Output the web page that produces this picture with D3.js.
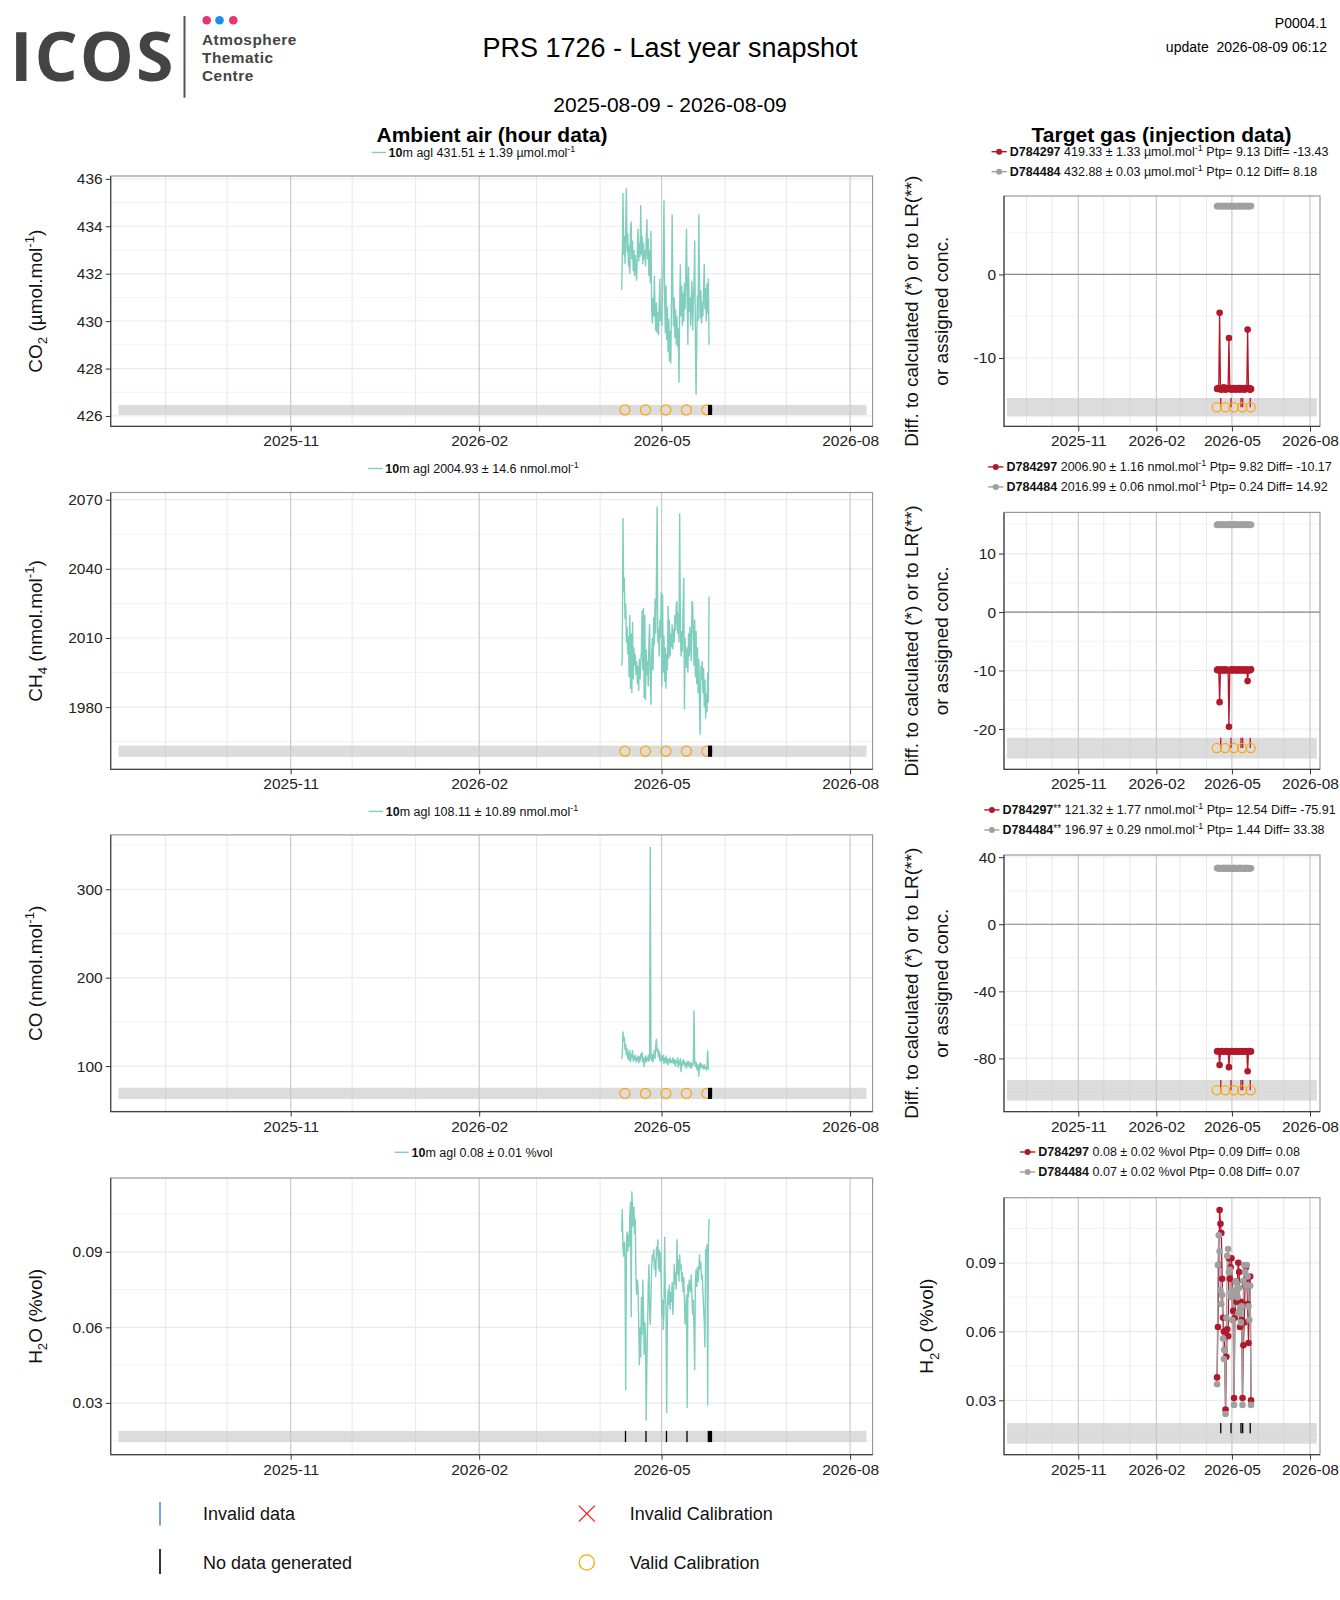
<!DOCTYPE html>
<html>
<head>
<meta charset="utf-8">
<title>PRS 1726 - Last year snapshot</title>
<script src="https://cdn.jsdelivr.net/npm/d3@7"></script>
<style>
  body { margin: 0; background: #fff; }
  svg { font-family: "Liberation Sans", Arial, Helvetica, sans-serif; }
</style>
</head>
<body>
<svg id="chart" width="1340" height="1600"></svg>
<script>
// ---------------- data ----------------
const stationTitle = "PRS 1726 - Last year snapshot";
const periodLabel = "2025-08-09 - 2026-08-09";
const versionLabel = "P0004.1";
const updateLabel = "update\u00a0\u00a02026-08-09 06:12";
const periodStart = "2025-08-09T00:00";
const periodEnd = "2026-08-09T00:00";

// ambient air, one value every 8 hours
const ambientStart = "2026-04-11T12:00";
const ambientStepHours = 8;
const co2Ambient = [431.3, 432.5, 435.4, 432.8, 433.6, 432.4, 434.0, 435.6, 432.9, 433.7,
  432.3, 433.2, 432.0, 433.8, 434.2, 432.6, 433.4, 432.1, 433.0, 431.9,
  432.8, 432.2, 431.7, 432.9, 433.9, 432.5, 433.3, 432.7, 434.9, 432.8,
  433.6, 432.4, 433.3, 432.6, 433.0, 432.3, 433.4, 434.3, 432.6, 433.5,
  431.9, 433.0, 431.6, 433.8, 430.5, 429.9, 431.0, 430.2, 431.9, 430.3,
  429.6, 430.8, 429.5, 430.4, 429.4, 430.6, 431.8, 430.0, 430.4, 429.8,
  431.3, 432.5, 435.1, 431.0, 429.5, 431.5, 429.2, 430.6, 428.7, 430.1,
  428.3, 429.6, 428.2, 430.9, 434.5, 431.2, 429.8, 431.0, 429.3, 430.5,
  429.0, 430.2, 428.9, 429.7, 427.4, 430.6, 432.4, 430.2, 431.5, 429.8,
  431.2, 430.0, 431.6, 430.5, 432.0, 433.9, 431.0, 429.0, 432.3, 430.4,
  431.0, 429.8, 430.9, 431.7, 429.6, 430.8, 431.5, 433.4, 429.4, 426.9,
  429.2, 431.1, 430.0, 434.5, 431.6, 430.1, 431.3, 429.9, 430.8, 430.2,
  431.4, 432.4, 430.5, 431.4, 430.0, 431.6, 430.3, 431.8, 429.0];
const ch4Ambient = [1998, 2001, 2062, 2030, 2036, 2018, 2025, 2008, 2015, 2003,
  2011, 1993, 2020, 1988, 2012, 1986, 2017, 1992, 2006, 1998,
  2003, 1994, 2000, 1990, 1998, 1987, 2001, 1992, 1999, 2004,
  2022, 1996, 2023, 1984, 2020, 1983, 2005, 1994, 2000, 1989,
  2008, 2016, 1993, 1981, 2002, 2010, 1996, 2019, 2007, 2027,
  2012, 2035, 2067, 2008, 2014, 2002, 2018, 2010, 2030, 1989,
  2029, 1995, 2011, 1991, 2006, 1988, 2003, 1996, 2024, 2001,
  2018, 2002, 2012, 2006, 2016, 2005, 2014, 2008, 2020, 2013,
  2024, 2026, 2012, 2021, 2008, 2064, 2017, 2002, 2013, 2004,
  2023, 2036, 1979, 2010, 2002, 1997, 2006, 1995, 2012, 2002,
  2015, 2006, 2000, 2026, 2025, 2011, 1998, 2018, 1993, 2013,
  1990, 2006, 1986, 2001, 1982, 1968, 1998, 1992, 2000, 1986,
  1997, 1980, 1992, 1975, 1986, 1978, 1995, 1982, 2028];
const coAmbient = [108, 112, 139, 128, 133, 118, 125, 112, 120, 108,
  116, 106, 118, 104, 114, 109, 118, 105, 112, 107,
  113, 104, 110, 106, 112, 103, 111, 105, 114, 108,
  116, 104, 110, 99, 107, 112, 104, 110, 106, 113,
  105, 109, 348, 110, 106, 114, 104, 112, 118, 108,
  124, 131, 116, 120, 110, 117, 106, 113, 104, 111,
  106, 113, 102, 110, 104, 112, 103, 109, 101, 108,
  104, 110, 103, 107, 104, 110, 102, 108, 105, 99,
  107, 103, 110, 98, 106, 101, 109, 93, 105, 100,
  108, 102, 106, 99, 104, 97, 103, 106, 100, 105,
  98, 104, 97, 102, 100, 106, 163, 104, 99, 105,
  98, 95, 102, 88, 100, 104, 97, 103, 98, 101,
  96, 102, 97, 100, 95, 99, 118, 97, 96];
const h2oAmbient = [0.098, 0.107, 0.092, 0.088, 0.094, 0.087, 0.035, 0.093, 0.098, 0.090,
  0.097, 0.092, 0.104, 0.110, 0.064, 0.114, 0.107, 0.100, 0.108, 0.097,
  0.103, 0.080, 0.073, 0.079, 0.076, 0.062, 0.045, 0.060, 0.048, 0.072,
  0.057, 0.079, 0.068, 0.049, 0.062, 0.058, 0.023, 0.045, 0.060, 0.076,
  0.085, 0.066, 0.061, 0.072, 0.084, 0.089, 0.087, 0.091, 0.083, 0.087,
  0.080, 0.092, 0.088, 0.095, 0.083, 0.091, 0.082, 0.090, 0.078, 0.064,
  0.071, 0.059, 0.066, 0.096, 0.074, 0.068, 0.026, 0.064, 0.075, 0.069,
  0.077, 0.067, 0.074, 0.070, 0.078, 0.065, 0.072, 0.085, 0.077, 0.082,
  0.075, 0.095, 0.081, 0.087, 0.078, 0.089, 0.083, 0.085, 0.078, 0.082,
  0.074, 0.080, 0.070, 0.061, 0.068, 0.073, 0.028, 0.077, 0.072, 0.079,
  0.076, 0.074, 0.081, 0.072, 0.065, 0.071, 0.058, 0.043, 0.078, 0.083,
  0.076, 0.084, 0.078, 0.082, 0.089, 0.083, 0.086, 0.079, 0.081, 0.074,
  0.068, 0.062, 0.052, 0.091, 0.089, 0.093, 0.029, 0.092, 0.103];

const calibrationTimes = ["2026-04-13T03:00", "2026-04-23T03:00", "2026-05-03T03:00", "2026-05-13T03:00", "2026-05-23T03:00"];
const noDataGas = [["2026-05-23T16:00", "2026-05-25T16:00"]];
const noDataH2O = [["2026-04-13T02:00", "2026-04-13T17:00"], ["2026-04-23T02:00", "2026-04-23T17:00"],
  ["2026-05-03T02:00", "2026-05-03T17:00"], ["2026-05-13T02:00", "2026-05-13T17:00"],
  ["2026-05-23T12:00", "2026-05-25T16:00"]];

// target gas injections, one per day
const injectionStart = "2026-04-13T12:00";
const injectionStepHours = 24;
const co2TargetA = [-13.7, -13.6, -13.7, -4.6, -13.7, -13.8, -13.6, -13.7, -13.5, -13.7,
  -13.8, -13.7, -13.6, -13.7, -7.6, -13.7, -13.6, -13.8, -13.7, -13.6,
  -13.7, -13.7, -13.8, -13.6, -13.7, -13.7, -13.6, -13.8, -13.7, -13.6,
  -13.7, -13.7, -13.8, -13.6, -13.7, -13.7, -6.6, -13.7, -13.6, -13.8, -13.7];
const co2TargetB = [8.17, 8.19, 8.18, 8.20, 8.16, 8.18, 8.19, 8.17, 8.18, 8.20,
  8.18, 8.16, 8.19, 8.18, 8.17, 8.18, 8.20, 8.18, 8.17, 8.19,
  8.18, 8.16, 8.18, 8.19, 8.17, 8.18, 8.20, 8.18, 8.17, 8.19,
  8.18, 8.17, 8.18, 8.19, 8.16, 8.18, 8.20, 8.18, 8.17, 8.19, 8.18];
const ch4TargetA = [-9.9, -9.8, -10.0, -15.4, -9.9, -10.0, -9.8, -9.9, -10.0, -9.9,
  -9.8, -10.0, -9.9, -9.9, -19.6, -9.9, -10.0, -9.8, -9.9, -10.0,
  -9.9, -9.8, -10.0, -9.9, -9.9, -10.0, -9.8, -9.9, -10.0, -9.9,
  -9.8, -10.0, -9.9, -9.9, -10.0, -9.8, -11.8, -9.9, -10.0, -9.9, -9.8];
const ch4TargetB = [14.90, 14.95, 14.91, 14.93, 14.88, 14.92, 14.96, 14.90, 14.93, 14.91,
  14.94, 14.89, 14.92, 14.95, 14.90, 14.93, 14.91, 14.94, 14.92, 14.89,
  14.93, 14.95, 14.91, 14.92, 14.90, 14.94, 14.92, 14.89, 14.93, 14.91,
  14.95, 14.92, 14.90, 14.93, 14.91, 14.94, 14.92, 14.90, 14.93, 14.91, 14.92];
const coTargetA = [-75.8, -75.6, -75.9, -83.9, -75.7, -75.9, -75.6, -75.8, -75.9, -75.7,
  -75.8, -75.6, -75.9, -75.8, -85.2, -75.7, -75.9, -75.6, -75.8, -75.9,
  -75.7, -75.8, -75.6, -75.9, -75.8, -75.7, -75.9, -75.6, -75.8, -75.9,
  -75.7, -75.8, -75.6, -75.9, -75.8, -75.7, -87.6, -75.8, -75.6, -75.9, -75.8];
const coTargetB = [33.4, 33.6, 33.2, 33.5, 33.3, 33.4, 33.1, 33.6, 33.4, 33.2,
  33.5, 33.3, 33.4, 33.6, 33.2, 33.4, 33.5, 33.3, 33.1, 33.4,
  33.6, 33.3, 33.4, 33.2, 33.5, 33.4, 33.3, 33.6, 33.2, 33.4,
  33.5, 33.3, 33.4, 33.2, 33.6, 33.4, 33.3, 33.5, 33.2, 33.4, 33.4];
const h2oTargetA = [0.040, 0.062, 0.089, 0.113, 0.107, 0.103, 0.083, 0.066, 0.060, 0.052,
  0.026, 0.049, 0.061, 0.058, 0.092, 0.083, 0.088, 0.092, 0.077, 0.069,
  0.031, 0.066, 0.075, 0.073, 0.082, 0.090, 0.086, 0.062, 0.073, 0.065,
  0.031, 0.054, 0.064, 0.080, 0.088, 0.083, 0.072, 0.055, 0.080, 0.084, 0.030];
const h2oTargetB = [0.037, 0.089, 0.102, 0.095, 0.078, 0.072, 0.076, 0.057, 0.048, 0.052,
  0.024, 0.066, 0.093, 0.096, 0.086, 0.087, 0.077, 0.075, 0.065, 0.078,
  0.028, 0.076, 0.082, 0.081, 0.075, 0.068, 0.079, 0.070, 0.064, 0.071,
  0.028, 0.082, 0.089, 0.086, 0.080, 0.089, 0.084, 0.071, 0.065, 0.080, 0.028];
const targetMissingTimes = ["2026-04-17T20:00", "2026-04-29T22:00", "2026-05-11T16:00", "2026-05-13T16:00", "2026-05-22T14:00"];

// tick values
const co2Ticks = [426, 428, 430, 432, 434, 436];
const ch4Ticks = [1980, 2010, 2040, 2070];
const coTicks = [100, 200, 300];
const h2oTicks = [0.03, 0.06, 0.09];
const co2DiffTicks = [-10, 0];
const ch4DiffTicks = [-20, -10, 0, 10];
const coDiffTicks = [-80, -40, 0, 40];
const h2oTargetTicks = [0.03, 0.06, 0.09];

// legend texts
const ambientLegends = [
  ["10m agl 431.51 ± 1.39 µmol.mol", "-1"],
  ["10m agl 2004.93 ± 14.6 nmol.mol", "-1"],
  ["10m agl 108.11 ± 10.89 nmol.mol", "-1"],
  ["10m agl 0.08 ± 0.01 %vol", ""]
];
const targetLegends = [
  [["D784297", "", " 419.33 ± 1.33 µmol.mol", "-1", " Ptp= 9.13 Diff= -13.43"],
   ["D784484", "", " 432.88 ± 0.03 µmol.mol", "-1", " Ptp= 0.12 Diff= 8.18"]],
  [["D784297", "", " 2006.90 ± 1.16 nmol.mol", "-1", " Ptp= 9.82 Diff= -10.17"],
   ["D784484", "", " 2016.99 ± 0.06 nmol.mol", "-1", " Ptp= 0.24 Diff= 14.92"]],
  [["D784297", "**", " 121.32 ± 1.77 nmol.mol", "-1", " Ptp= 12.54 Diff= -75.91"],
   ["D784484", "**", " 196.97 ± 0.29 nmol.mol", "-1", " Ptp= 1.44 Diff= 33.38"]],
  [["D784297", "", " 0.08 ± 0.02 %vol Ptp= 0.09 Diff= 0.08", "", ""],
   ["D784484", "", " 0.07 ± 0.02 %vol Ptp= 0.08 Diff= 0.07", "", ""]]
];
const axisTitles = [
  [["CO"], ["2", "sub"], [" (µmol.mol"], ["-1", "sup"], [")"]],
  [["CH"], ["4", "sub"], [" (nmol.mol"], ["-1", "sup"], [")"]],
  [["CO (nmol.mol"], ["-1", "sup"], [")"]],
  [["H"], ["2", "sub"], ["O (%vol)"]]
];
const diffTitle = ["Diff. to calculated (*) or to LR(**)", "or assigned conc."];
const legendLabels = ["Invalid data", "No data generated", "Invalid Calibration", "Valid Calibration"];
const logoLines = ["Atmosphere", "Thematic", "Centre"];

// ---------------- drawing ----------------
const svg = d3.select("#chart");
const FONT = "'Liberation Sans', Arial, Helvetica, sans-serif";
const TEAL = "#80cebe", RED = "#b2182b", GREY = "#a0a0a0", ORANGE = "#ffa500";
const parseTime = d3.timeParse("%Y-%m-%dT%H:%M");
const t0 = parseTime(periodStart), t1 = parseTime(periodEnd);
const monthFmt = d3.timeFormat("%Y-%m");
const months = d3.timeMonth.range(d3.timeMonth.offset(t0, -1), d3.timeMonth.offset(t1, 1));

const xLeft = d3.scaleTime().domain([t0, t1]).range([118.5, 866.5]);
const xRight = d3.scaleTime().domain([t0, t1]).range([1007, 1316.8]);
const LEFT = [110.7, 872.6], RIGHT = [1004, 1320];

const rows = [
  { top: 176, rTop: 196, bottom: 426.4, dom: [425.56, 436.12], rDom: [-18.19, 9.39],
    ticks: co2Ticks, rTicks: co2DiffTicks, amb: co2Ambient, tA: co2TargetA, tB: co2TargetB,
    legY: 152.5, rLegY: 151.7, gas: true },
  { top: 492.5, rTop: 512.4, bottom: 769.4, dom: [1953.0, 2073.1], rDom: [-26.9, 17.04],
    ticks: ch4Ticks, rTicks: ch4DiffTicks, amb: ch4Ambient, tA: ch4TargetA, tB: ch4TargetB,
    legY: 468.5, rLegY: 466.9, gas: true },
  { top: 834.9, rTop: 855, bottom: 1111.6, dom: [48.5, 361.5], rDom: [-111.7, 41.3],
    ticks: coTicks, rTicks: coDiffTicks, amb: coAmbient, tA: coTargetA, tB: coTargetB,
    legY: 811.4, rLegY: 809.9, gas: true },
  { top: 1178, rTop: 1197.7, bottom: 1454.7, dom: [0.00943, 0.1193], rDom: [0.00627, 0.1184],
    ticks: h2oTicks, rTicks: h2oTargetTicks, amb: h2oAmbient, tA: h2oTargetA, tB: h2oTargetB,
    legY: 1152.3, rLegY: 1152, gas: false }
];

function richText(sel, parts, fs) {
  let shift = 0;
  parts.forEach(([str, kind]) => {
    const target = kind === "sub" ? 0.3 * fs : kind === "sup" ? -0.42 * fs : 0;
    const ts = sel.append("tspan").text(str).attr("dy", target - shift);
    if (kind) ts.attr("font-size", fs * 0.7);
    shift = target;
  });
}

function drawPanel(x, y, ext, top, bottom, ticks, band) {
  const g = svg.append("g");
  const [l, r] = ext, h = bottom - top;
  const step = ticks[1] - ticks[0];
  const [d0, d1] = y.domain();
  const minor = d3.range(ticks.length + 1).map(i => ticks[0] - step / 2 + i * step)
    .filter(v => v > d0 && v < d1);
  const inside = d => x(d) > l && x(d) < r;
  const majorM = months.filter(d => d.getMonth() % 3 === 1 && inside(d));
  const minorM = months.filter(d => d.getMonth() % 3 !== 1 && inside(d));

  g.selectAll(".hmin").data(minor).join("line")
    .attr("x1", l).attr("x2", r).attr("y1", d => y(d)).attr("y2", d => y(d))
    .attr("stroke", "#f3f3f3").attr("stroke-width", 1);
  g.selectAll(".hmaj").data(ticks).join("line")
    .attr("x1", l).attr("x2", r).attr("y1", d => y(d)).attr("y2", d => y(d))
    .attr("stroke", "#ebebeb").attr("stroke-width", 1.2);
  g.selectAll(".vmin").data(minorM).join("line")
    .attr("x1", d => x(d)).attr("x2", d => x(d)).attr("y1", top).attr("y2", bottom)
    .attr("stroke", "#e8e8e8").attr("stroke-width", 1);
  g.selectAll(".vmaj").data(majorM).join("line")
    .attr("x1", d => x(d)).attr("x2", d => x(d)).attr("y1", top).attr("y2", bottom)
    .attr("stroke", "#cbcbcb").attr("stroke-width", 1.2);

  // status band
  g.append("rect")
    .attr("x", x(t0)).attr("width", x(t1) - x(t0))
    .attr("y", bottom - band[1] * h).attr("height", (band[1] - band[0]) * h)
    .attr("fill", "#c4c4c4").attr("opacity", 0.6);

  const data = g.append("g");

  // frame and axes
  g.append("rect").attr("x", l).attr("y", top).attr("width", r - l).attr("height", h)
    .attr("fill", "none").attr("stroke", "#999").attr("stroke-width", 1.2);
  g.append("path").attr("d", `M${l},${top}V${bottom}H${r}`)
    .attr("fill", "none").attr("stroke", "#444").attr("stroke-width", 1.2);

  const ay = g.append("g").attr("transform", `translate(${l},0)`)
    .call(d3.axisLeft(y).tickValues(ticks).tickSize(5).tickPadding(3).tickFormat(d => String(d)));
  const ax = g.append("g").attr("transform", `translate(0,${bottom})`)
    .call(d3.axisBottom(x).tickValues(majorM).tickSize(5).tickPadding(4).tickFormat(monthFmt));
  [ay, ax].forEach(a => {
    a.select(".domain").remove();
    a.attr("font-family", FONT).attr("font-size", 15.5);
    a.selectAll("line").attr("stroke", "#333");
    a.selectAll("text").attr("fill", "#222");
  });

  return { data, bandTop: bottom - band[1] * h, bandBot: bottom - band[0] * h };
}

const ambientTimes = d3.range(co2Ambient.length).map(i => d3.timeHour.offset(parseTime(ambientStart), i * ambientStepHours));
const injectionTimes = d3.range(co2TargetA.length).map(i => d3.timeHour.offset(parseTime(injectionStart), i * injectionStepHours));
const calTimes = calibrationTimes.map(parseTime);
const missTimes = targetMissingTimes.map(parseTime);

rows.forEach((row, k) => {
  // ---- ambient panel ----
  const y = d3.scaleLinear().domain(row.dom).range([row.bottom, row.top]);
  const p = drawPanel(xLeft, y, LEFT, row.top, row.bottom, row.ticks, [0.0455, 0.086]);
  const pts = row.amb.map((v, i) => ({ t: ambientTimes[i], v }));
  p.data.append("path").datum(pts)
    .attr("d", d3.line().x(d => xLeft(d.t)).y(d => y(d.v)))
    .attr("fill", "none").attr("stroke", TEAL).attr("stroke-width", 1.4);
  const bandMid = (p.bandTop + p.bandBot) / 2;
  if (row.gas) {
    p.data.selectAll(".cal").data(calTimes).join("circle")
      .attr("cx", d => xLeft(d)).attr("cy", bandMid).attr("r", 5)
      .attr("fill", "none").attr("stroke", ORANGE).attr("stroke-width", 1.2);
  }
  const gaps = (row.gas ? noDataGas : noDataH2O).map(d => d.map(parseTime));
  p.data.selectAll(".gap").data(gaps).join("rect")
    .attr("x", d => xLeft(d[0])).attr("width", d => Math.max(1.3, xLeft(d[1]) - xLeft(d[0])))
    .attr("y", p.bandTop).attr("height", p.bandBot - p.bandTop).attr("fill", "#000");

  // ambient legend
  const lg = svg.append("g");
  lg.append("line").attr("x1", 0).attr("x2", 14.3).attr("y1", 0).attr("y2", 0)
    .attr("stroke", TEAL).attr("stroke-width", 1.4);
  const [lt, lsup] = ambientLegends[k];
  const ltxt = lg.append("text").attr("x", 17).attr("y", 4.4).attr("font-size", 12.5).attr("fill", "#111");
  ltxt.append("tspan").attr("font-weight", "bold").text(lt.slice(0, 2));
  ltxt.append("tspan").text(lt.slice(2));
  if (lsup) ltxt.append("tspan").attr("dy", -5).attr("font-size", 9).text(lsup);
  const lw = lg.node().getBBox().width;
  lg.attr("transform", `translate(${473.5 - lw / 2},${row.legY})`);

  // axis title
  const at = svg.append("text").attr("transform", `translate(${35 + 6.6},${(row.top + row.bottom) / 2}) rotate(-90)`)
    .attr("text-anchor", "middle").attr("font-size", 19).attr("fill", "#111");
  richText(at, axisTitles[k], 19);

  // ---- target panel ----
  const yr = d3.scaleLinear().domain(row.rDom).range([row.bottom, row.rTop]);
  const q = drawPanel(xRight, yr, RIGHT, row.rTop, row.bottom, row.rTicks, [0.043, 0.123]);
  if (row.gas) {
    q.data.append("line").attr("x1", RIGHT[0]).attr("x2", RIGHT[1]).attr("y1", yr(0)).attr("y2", yr(0))
      .attr("stroke", "#8a8a8a").attr("stroke-width", 1.2);
  }
  const rMid = (q.bandTop + q.bandBot) / 2;
  q.data.selectAll(".miss").data(missTimes).join("line")
    .attr("x1", d => xRight(d)).attr("x2", d => xRight(d)).attr("y1", q.bandTop).attr("y2", rMid)
    .attr("stroke", row.gas ? RED : "#000").attr("stroke-width", 1.3);
  const series = [[row.tA, RED], [row.tB, GREY]];
  series.forEach(([vals, col]) => {
    q.data.append("path").datum(vals)
      .attr("d", d3.line().x((d, i) => xRight(injectionTimes[i])).y(d => yr(d)))
      .attr("fill", "none").attr("stroke", col).attr("stroke-width", 1.3);
  });
  series.forEach(([vals, col]) => {
    q.data.append("g").selectAll("circle").data(vals).join("circle")
      .attr("cx", (d, i) => xRight(injectionTimes[i])).attr("cy", d => yr(d)).attr("r", 3.3)
      .attr("fill", col);
  });
  if (row.gas) {
    q.data.selectAll(".cal").data(calTimes).join("circle")
      .attr("cx", d => xRight(d)).attr("cy", rMid).attr("r", 4.6)
      .attr("fill", "none").attr("stroke", ORANGE).attr("stroke-width", 1.2);
  }

  // target legend
  const tg = svg.append("g");
  targetLegends[k].forEach(([id, star, stat, sup, tail], j) => {
    const col = j === 0 ? RED : GREY;
    const rowG = tg.append("g").attr("transform", `translate(0,${j * 20})`);
    rowG.append("line").attr("x1", 0).attr("x2", 15.3).attr("stroke", col).attr("stroke-width", 1.4);
    rowG.append("circle").attr("cx", 7.6).attr("r", 3).attr("fill", col);
    const tt = rowG.append("text").attr("x", 18.3).attr("y", 4.4).attr("font-size", 12.5).attr("fill", "#111");
    tt.append("tspan").attr("font-weight", "bold").text(id);
    if (star) tt.append("tspan").attr("font-size", 10).attr("dy", -2).text(star);
    tt.append("tspan").attr("dy", star ? 2 : 0).text(stat);
    if (sup) {
      tt.append("tspan").attr("dy", -5).attr("font-size", 9).text(sup);
      tt.append("tspan").attr("dy", 5).text(tail);
    }
  });
  const tw = tg.node().getBBox().width;
  tg.attr("transform", `translate(${1160 - tw / 2},${row.rLegY})`);

  // target axis title
  const cy = (row.rTop + row.bottom) / 2;
  if (row.gas) {
    diffTitle.forEach((s, j) => {
      svg.append("text").attr("transform", `translate(${911.5 + j * 30 + 6.6},${cy}) rotate(-90)`)
        .attr("text-anchor", "middle").attr("font-size", 19).attr("fill", "#111").text(s);
    });
  } else {
    const ht = svg.append("text").attr("transform", `translate(${926.7 + 6.6},${cy}) rotate(-90)`)
      .attr("text-anchor", "middle").attr("font-size", 19).attr("fill", "#111");
    richText(ht, axisTitles[k], 19);
  }
});

// ---------------- titles ----------------
svg.append("text").attr("x", 670).attr("y", 47 + 9.5).attr("text-anchor", "middle")
  .attr("font-size", 27).attr("fill", "#000").text(stationTitle);
svg.append("text").attr("x", 670).attr("y", 105 + 7.4).attr("text-anchor", "middle")
  .attr("font-size", 21).attr("fill", "#000").text(periodLabel);
svg.append("text").attr("x", 492).attr("y", 134.5 + 7.4).attr("text-anchor", "middle")
  .attr("font-size", 21).attr("font-weight", "bold").attr("fill", "#000").text("Ambient air (hour data)");
svg.append("text").attr("x", 1161.5).attr("y", 134.5 + 7.4).attr("text-anchor", "middle")
  .attr("font-size", 21).attr("font-weight", "bold").attr("fill", "#000").text("Target gas (injection data)");
svg.append("text").attr("x", 1327).attr("y", 27.5).attr("text-anchor", "end")
  .attr("font-size", 14).attr("fill", "#000").text(versionLabel);
svg.append("text").attr("x", 1327).attr("y", 52).attr("text-anchor", "end")
  .attr("font-size", 14).attr("fill", "#000").text(updateLabel);

// ---------------- logo ----------------
const logo = svg.append("g").attr("fill", "#444");
logo.append("text").attr("x", 10).attr("y", 81).attr("font-family", "'Open Sans', sans-serif")
  .attr("font-size", 68).attr("font-weight", 700).attr("letter-spacing", 2).text("ICOS");
logo.append("line").attr("x1", 184.5).attr("x2", 184.5).attr("y1", 16).attr("y2", 97.7)
  .attr("stroke", "#555").attr("stroke-width", 2);
[["#e8336d", 206.7], ["#1b8ff0", 219.5], ["#e8336d", 233.3]].forEach(([c, cx]) => {
  logo.append("circle").attr("cx", cx).attr("cy", 20.3).attr("r", 4.3).attr("fill", c);
});
logoLines.forEach((s, i) => {
  logo.append("text").attr("x", 202).attr("y", 45 + i * 18).attr("font-size", 15.4)
    .attr("font-weight", 700).attr("letter-spacing", 0.5).text(s);
});

// ---------------- bottom legend ----------------
const leg = svg.append("g").attr("font-size", 18).attr("fill", "#111");
leg.append("line").attr("x1", 160).attr("x2", 160).attr("y1", 1502).attr("y2", 1525.5)
  .attr("stroke", "#4a8fd8").attr("stroke-width", 1.6);
leg.append("line").attr("x1", 160).attr("x2", 160).attr("y1", 1549).attr("y2", 1574)
  .attr("stroke", "#000").attr("stroke-width", 1.6);
leg.append("path").attr("d", "M578.8,1505.6L594.8,1521.6M594.8,1505.6L578.8,1521.6")
  .attr("stroke", "#ff1a1a").attr("stroke-width", 1.3).attr("fill", "none");
leg.append("circle").attr("cx", 586.8).attr("cy", 1562.5).attr("r", 7.6)
  .attr("fill", "none").attr("stroke", ORANGE).attr("stroke-width", 1.3);
[[203, 1513.3], [203, 1563], [629.7, 1513.6], [629.7, 1562.5]].forEach(([lx, ly], i) => {
  leg.append("text").attr("x", lx).attr("y", ly + 6.3).text(legendLabels[i]);
});
</script>
</body>
</html>
